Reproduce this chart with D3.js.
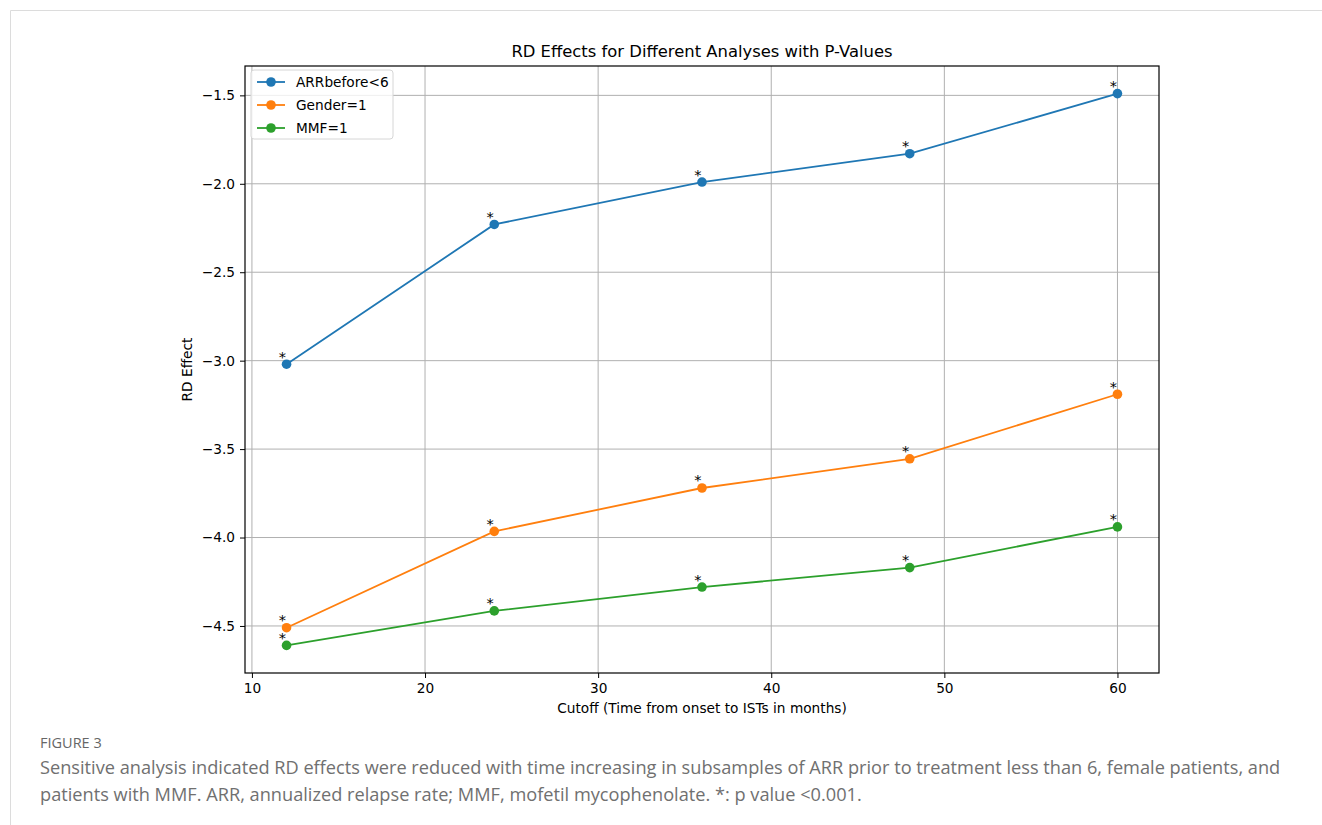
<!DOCTYPE html>
<html>
<head>
<meta charset="utf-8">
<script src="https://cdn.jsdelivr.net/npm/d3@7"></script>
<style>
  html, body { margin: 0; padding: 0; background: #fff; }
  svg { display: block; }
</style>
</head>
<body>
<svg id="fig" width="1322" height="825"></svg>
<script>
// Cutoff months and RD effects per subsample
const cutoffs = [12, 24, 36, 48, 60];
const arrBefore6 = [-3.02, -2.23, -1.99, -1.83, -1.49];
const gender1 = [-4.51, -3.965, -3.72, -3.555, -3.19];
const mmf1 = [-4.61, -4.415, -4.28, -4.17, -3.94];
const pMarks = ["*", "*", "*", "*", "*"];
const seriesNames = ["ARRbefore<6", "Gender=1", "MMF=1"];
const seriesColors = ["#1f77b4", "#ff7f0e", "#2ca02c"];
const xTickValues = [10, 20, 30, 40, 50, 60];
const yTickValues = [-4.5, -4.0, -3.5, -3.0, -2.5, -2.0, -1.5];

const series = [arrBefore6, gender1, mmf1].map((vals, i) => ({
  name: seriesNames[i],
  color: seriesColors[i],
  points: cutoffs.map((c, j) => ({ x: c, y: vals[j], p: pMarks[j] }))
}));

const svg = d3.select("#fig");
const W = 1322, H = 825;
svg.append("rect").attr("width", W).attr("height", H).attr("fill", "#fff");

// card border
svg.append("path")
  .attr("d", `M10.5,${H} L10.5,10.5 L${W},10.5`)
  .attr("fill", "none").attr("stroke", "#dcdcdc").attr("stroke-width", 1);

const plot = { left: 245, right: 1159, top: 66, bottom: 673 };
const font = "DejaVu Sans, sans-serif";
const fs = "13.7px";

// matplotlib-style 5% padding
function padded(ext) { const m = (ext[1] - ext[0]) * 0.05; return [ext[0] - m, ext[1] + m]; }
const allY = [].concat(arrBefore6, gender1, mmf1);
const x = d3.scaleLinear().domain(padded(d3.extent(cutoffs))).range([plot.left, plot.right]);
const y = d3.scaleLinear().domain(padded(d3.extent(allY))).range([plot.bottom, plot.top]);

const g = svg.append("g");

// grid
g.append("g").selectAll("line").data(xTickValues).join("line")
  .attr("x1", d => x(d)).attr("x2", d => x(d))
  .attr("y1", plot.top).attr("y2", plot.bottom)
  .attr("stroke", "#b0b0b0").attr("stroke-width", 1);
g.append("g").selectAll("line").data(yTickValues).join("line")
  .attr("y1", d => y(d)).attr("y2", d => y(d))
  .attr("x1", plot.left).attr("x2", plot.right)
  .attr("stroke", "#b0b0b0").attr("stroke-width", 1);

const fmt = d => d3.format(".1f")(d).replace("-", "\u2212");

// axes
const xAxis = d3.axisBottom(x).tickValues(xTickValues).tickSize(5).tickPadding(5).tickFormat(d3.format("d"));
const yAxis = d3.axisLeft(y).tickValues(yTickValues).tickSize(5).tickPadding(5).tickFormat(fmt);
const gx = g.append("g").attr("transform", `translate(0,${plot.bottom})`).call(xAxis);
const gy = g.append("g").attr("transform", `translate(${plot.left},0)`).call(yAxis);
[gx, gy].forEach(a => {
  a.select(".domain").remove();
  a.selectAll("line").attr("stroke", "#000").attr("stroke-width", 1);
  a.selectAll("text").attr("fill", "#000").style("font-family", font).style("font-size", fs);
});

// frame
g.append("rect")
  .attr("x", plot.left).attr("y", plot.top)
  .attr("width", plot.right - plot.left).attr("height", plot.bottom - plot.top)
  .attr("fill", "none").attr("stroke", "#000").attr("stroke-width", 1.2);

// lines, markers and significance marks
const line = d3.line().x(d => x(d.x)).y(d => y(d.y));
series.forEach(s => {
  const sg = g.append("g");
  sg.append("path").datum(s.points).attr("d", line)
    .attr("fill", "none").attr("stroke", s.color).attr("stroke-width", 1.8);
  sg.selectAll("circle").data(s.points).join("circle")
    .attr("cx", d => x(d.x)).attr("cy", d => y(d.y)).attr("r", 4.8)
    .attr("fill", s.color);
  sg.selectAll("text").data(s.points).join("text")
    .attr("x", d => x(d.x) - 0.5).attr("y", d => y(d.y) - 2.5)
    .attr("text-anchor", "end")
    .style("font-family", font).style("font-size", "14.5px").attr("fill", "#000")
    .text(d => d.p);
});

// title and axis labels
svg.append("text").attr("x", (plot.left + plot.right) / 2).attr("y", 57)
  .attr("text-anchor", "middle").style("font-family", font).style("font-size", "16.4px")
  .text("RD Effects for Different Analyses with P-Values");
svg.append("text").attr("x", (plot.left + plot.right) / 2).attr("y", 713)
  .attr("text-anchor", "middle").style("font-family", font).style("font-size", fs)
  .text("Cutoff (Time from onset to ISTs in months)");
svg.append("text")
  .attr("transform", `translate(192,${(plot.top + plot.bottom) / 2}) rotate(-90)`)
  .attr("text-anchor", "middle").style("font-family", font).style("font-size", fs)
  .text("RD Effect");

// legend
const lg = svg.append("g").attr("transform", "translate(251,70)");
lg.append("rect").attr("width", 142).attr("height", 69).attr("rx", 3)
  .attr("fill", "#fff").attr("fill-opacity", 0.8).attr("stroke", "#d6d6d6");
series.forEach((s, i) => {
  const yy = 12 + i * 23;
  lg.append("line").attr("x1", 6).attr("x2", 34).attr("y1", yy).attr("y2", yy)
    .attr("stroke", s.color).attr("stroke-width", 1.8);
  lg.append("circle").attr("cx", 20).attr("cy", yy).attr("r", 4.8).attr("fill", s.color);
  lg.append("text").attr("x", 45).attr("y", yy + 5)
    .style("font-family", font).style("font-size", fs).text(s.name);
});

// caption
const capFont = "Open Sans, Noto Sans, sans-serif";
svg.append("text").attr("x", 40).attr("y", 748)
  .style("font-family", capFont).style("font-size", "14.5px").attr("fill", "#666")
  .text("FIGURE 3");
svg.append("text").attr("x", 40).attr("y", 774)
  .style("font-family", capFont).style("font-size", "18.2px").attr("fill", "#707070")
  .text("Sensitive analysis indicated RD effects were reduced with time increasing in subsamples of ARR prior to treatment less than 6, female patients, and");
svg.append("text").attr("x", 40).attr("y", 801)
  .style("font-family", capFont).style("font-size", "18.2px").attr("fill", "#707070")
  .text("patients with MMF. ARR, annualized relapse rate; MMF, mofetil mycophenolate. *: p value <0.001.");
</script>
</body>
</html>
